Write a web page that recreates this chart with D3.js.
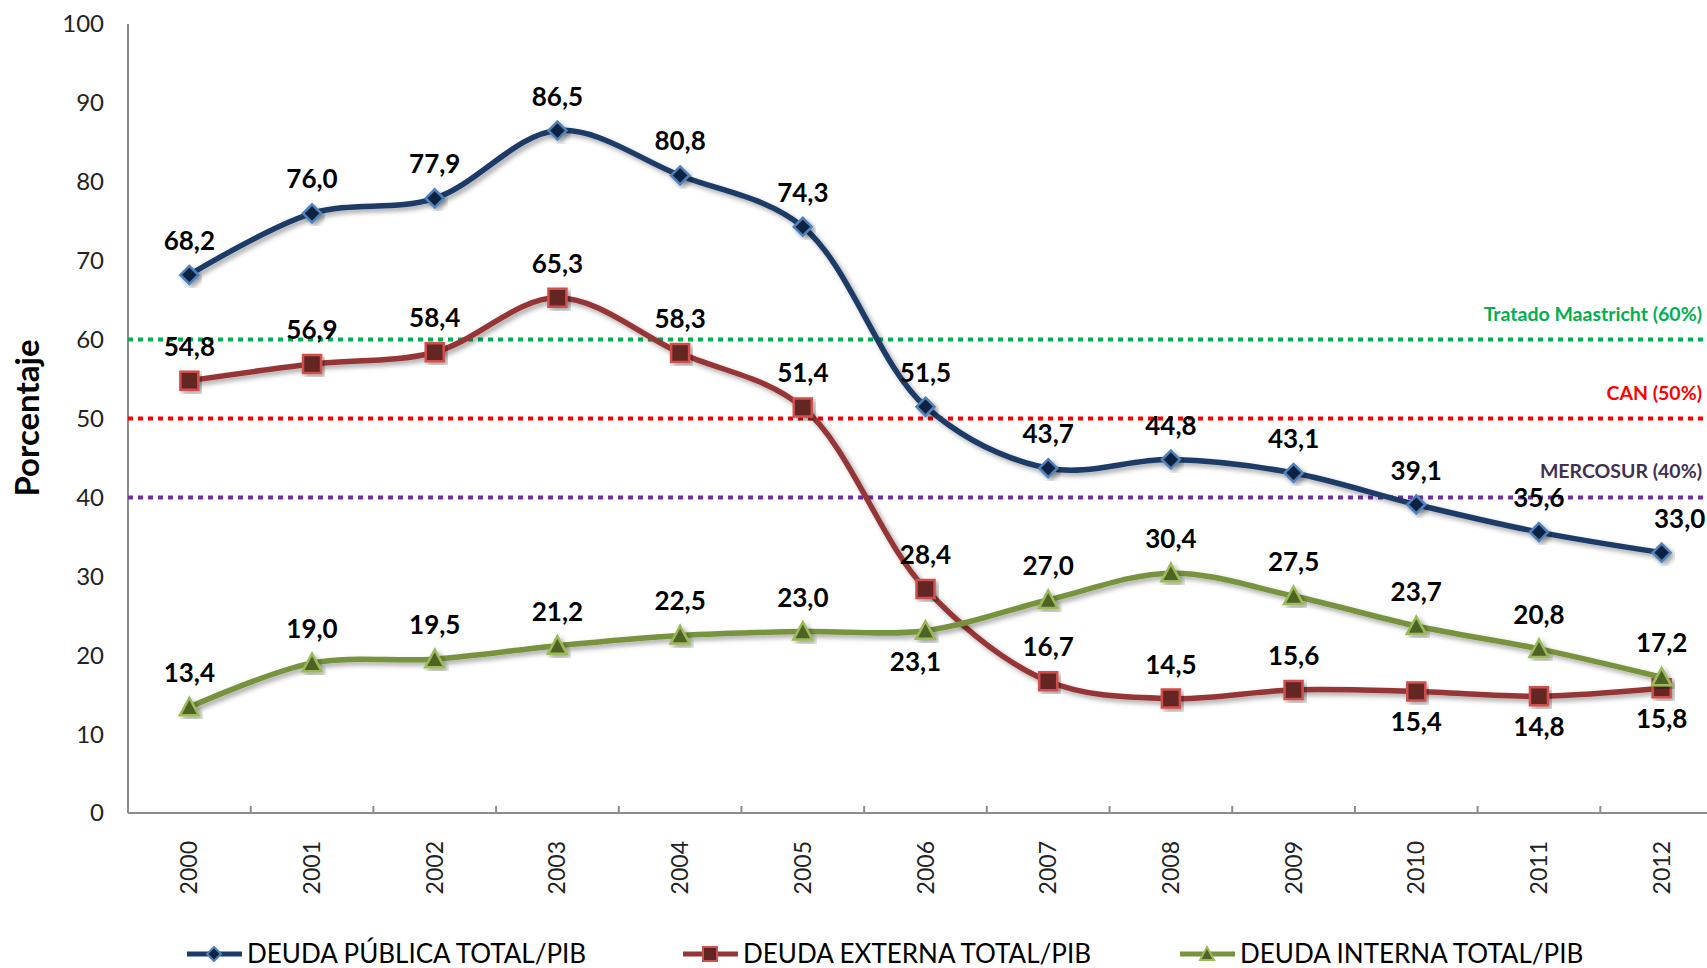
<!DOCTYPE html>
<html>
<head>
<meta charset="utf-8">
<script src="https://cdn.jsdelivr.net/npm/d3@7"></script>
<style>
  body { margin: 0; background: #fff; }
  svg { display: block; font-family: Lato, "Open Sans", sans-serif; }
</style>
</head>
<body>
<svg id="chart" width="1707" height="968"></svg>
<script>
// data
const years = ['2000','2001','2002','2003','2004','2005','2006','2007','2008','2009','2010','2011','2012']
const deuda_publica = [68.2, 76.0, 77.9, 86.5, 80.8, 74.3, 51.5, 43.7, 44.8, 43.1, 39.1, 35.6, 33.0]
const deuda_externa = [54.8, 56.9, 58.4, 65.3, 58.3, 51.4, 28.4, 16.7, 14.5, 15.6, 15.4, 14.8, 15.8]
const deuda_interna = [13.4, 19.0, 19.5, 21.2, 22.5, 23.0, 23.1, 27.0, 30.4, 27.5, 23.7, 20.8, 17.2]
const y_ticks = [0, 10, 20, 30, 40, 50, 60, 70, 80, 90, 100]
const ref_names = ['Tratado Maastricht (60%)', 'CAN (50%)', 'MERCOSUR (40%)']
const ref_values = [60, 50, 40]

// styles
const series = [
  { key: 'publica', name: 'DEUDA PÚBLICA TOTAL/PIB', values: deuda_publica, line: '#1a3a66',
    fill: '#10243f', stroke: '#4f81bd', shape: 'diamond', below: [] },
  { key: 'externa', name: 'DEUDA EXTERNA TOTAL/PIB', values: deuda_externa, line: '#963634',
    fill: '#632523', stroke: '#d0504d', shape: 'square', below: ['2010', '2011', '2012'] },
  { key: 'interna', name: 'DEUDA INTERNA TOTAL/PIB', values: deuda_interna, line: '#77933c',
    fill: '#4f6228', stroke: '#9bbb59', shape: 'triangle', below: ['2006'] }
]
const ref_colors = ['#00b050', '#ff0000', '#7030a0']
const ref_text_colors = ['#00b050', '#ff0000', '#403152']
const label_dx = { 'publica-2012': 18, 'interna-2006': -10 }

const margin = { top: 24, left: 128 }
const plot_h = 789
const plot_w = 1595

const svg = d3.select('#chart')
const defs = svg.append('defs')
const shadow = defs.append('filter').attr('id', 'shadow')
  .attr('x', '-20%').attr('y', '-20%').attr('width', '140%').attr('height', '140%')
shadow.append('feDropShadow')
  .attr('dx', 3).attr('dy', 3).attr('stdDeviation', 2.5)
  .attr('flood-color', '#000').attr('flood-opacity', 0.35)

const g = svg.append('g').attr('transform', `translate(${margin.left},${margin.top})`)

const x = d3.scaleBand().domain(years).range([0, plot_w])
const y = d3.scaleLinear().domain([0, 100]).range([plot_h, 0])
const cx = d => x(d) + x.bandwidth() / 2

// y axis labels
g.selectAll('.y-tick')
  .data(y_ticks)
  .join('text')
  .attr('class', 'y-tick')
  .attr('x', -24)
  .attr('y', d => y(d))
  .attr('dy', '0.35em')
  .attr('text-anchor', 'end')
  .style('font-size', '24px')
  .style('fill', '#222')
  .text(d => d)

// axis lines
g.append('line')
  .attr('x1', 0).attr('x2', 0).attr('y1', 0).attr('y2', plot_h)
  .style('stroke', '#8c8c8c').style('stroke-width', 2)
g.append('line')
  .attr('x1', 0).attr('x2', plot_w).attr('y1', plot_h).attr('y2', plot_h)
  .style('stroke', '#8c8c8c').style('stroke-width', 2)
g.selectAll('.x-tick-mark')
  .data(years.slice(1))
  .join('line')
  .attr('class', 'x-tick-mark')
  .attr('x1', d => x(d)).attr('x2', d => x(d))
  .attr('y1', plot_h).attr('y2', plot_h - 7)
  .style('stroke', '#8c8c8c').style('stroke-width', 2)

// x labels
g.selectAll('.x-label')
  .data(years)
  .join('text')
  .attr('class', 'x-label')
  .attr('transform', d => `translate(${cx(d)},${plot_h + 28}) rotate(-90)`)
  .attr('dy', '0.35em')
  .attr('text-anchor', 'end')
  .style('font-size', '23px')
  .style('fill', '#222')
  .text(d => d)

// y title
svg.append('text')
  .attr('transform', 'translate(27,418) rotate(-90)')
  .attr('text-anchor', 'middle')
  .attr('dy', '0.35em')
  .style('font-size', '33px')
  .style('font-weight', 'bold')
  .text('Porcentaje')

// reference lines
ref_values.forEach((v, i) => {
  g.append('line')
    .attr('x1', 0).attr('x2', plot_w)
    .attr('y1', y(v)).attr('y2', y(v))
    .style('stroke', ref_colors[i])
    .style('stroke-width', 4)
    .style('stroke-dasharray', '5,5')
  g.append('text')
    .attr('x', 1702 - margin.left)
    .attr('y', y(v) - 19)
    .attr('text-anchor', 'end')
    .style('font-size', '19.5px')
    .style('font-weight', 'bold')
    .style('fill', ref_text_colors[i])
    .text(ref_names[i])
})

// marker shapes
function marker_path(shape, s) {
  if (shape == 'diamond') return `M0,${-s}L${s},0L0,${s}L${-s},0Z`
  if (shape == 'square') return `M${-s},${-s}H${s}V${s}H${-s}Z`
  return `M0,${-s}L${s},${s * 0.85}L${-s},${s * 0.85}Z`
}
const marker_size = { diamond: 9, square: 9, triangle: 9.5 }

const line = d3.line()
  .x(d => cx(d.year))
  .y(d => y(d.value))
  .curve(d3.curveCatmullRom.alpha(0.5))

// series lines and markers
series.forEach(s => {
  let pts = years.map((yr, i) => ({ year: yr, value: s.values[i] }))
  let sg = g.append('g').attr('id', `serie-${s.key}`)
  sg.append('path')
    .datum(pts)
    .attr('d', line)
    .style('fill', 'none')
    .style('stroke', s.line)
    .style('stroke-width', 5.5)
    .style('stroke-linejoin', 'round')
    .attr('filter', 'url(#shadow)')
  sg.selectAll('.marker')
    .data(pts)
    .join('path')
    .attr('class', 'marker')
    .attr('transform', d => `translate(${cx(d.year)},${y(d.value)})`)
    .attr('d', marker_path(s.shape, marker_size[s.shape]))
    .style('fill', s.fill)
    .style('stroke', s.stroke)
    .style('stroke-width', 2.5)
    .attr('filter', 'url(#shadow)')
  s.pts = pts
})

// data labels
series.forEach(s => {
  g.selectAll(`.label-${s.key}`)
    .data(s.pts)
    .join('text')
    .attr('class', `label-${s.key}`)
    .attr('x', d => cx(d.year) + (label_dx[`${s.key}-${d.year}`] || 0))
    .attr('y', d => s.below.includes(d.year) ? y(d.value) + 40 : y(d.value) - 25)
    .attr('text-anchor', 'middle')
    .style('font-size', '26px')
    .style('font-weight', 'bold')
    .style('fill', '#000')
    .text(d => d.value.toFixed(1).replace('.', ','))
})

// legend
const legend_x = [187, 683, 1180]
const legend = svg.append('g').attr('id', 'legend')
series.forEach((s, i) => {
  let lg = legend.append('g').attr('transform', `translate(${legend_x[i]},954)`)
  lg.append('line')
    .attr('x1', 0).attr('x2', 55)
    .style('stroke', s.line).style('stroke-width', 5)
  lg.append('path')
    .attr('transform', 'translate(27,0)')
    .attr('d', marker_path(s.shape, 7))
    .style('fill', s.fill)
    .style('stroke', s.stroke)
    .style('stroke-width', 2)
  lg.append('text')
    .attr('x', 60)
    .attr('dy', '0.36em')
    .style('font-size', '26px')
    .style('fill', '#000')
    .text(s.name)
})
</script>
</body>
</html>
